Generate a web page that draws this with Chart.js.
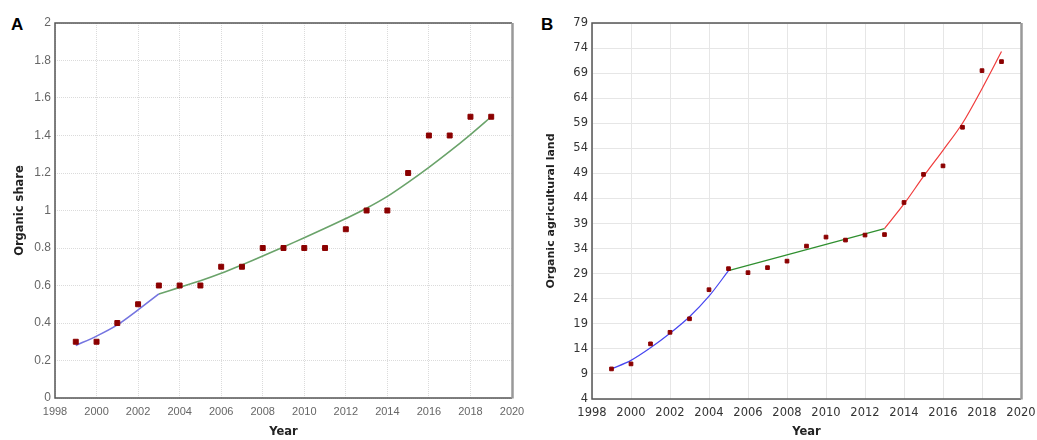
<!DOCTYPE html>
<html>
<head>
<meta charset="utf-8">
<script src="https://cdn.jsdelivr.net/npm/chart.js@4"></script>
<style>
  body { margin: 0; background: #fff; width: 1037px; height: 440px; position: relative; overflow: hidden; }
  .panel { position: absolute; top: 0; height: 440px; }
  .tag { position: absolute; font: bold 17px "Liberation Sans", Arial, sans-serif; color: #000; }
</style>
</head>
<body>
<div class="tag" style="left:11px;top:15px">A</div>
<div class="tag" style="left:541px;top:15px">B</div>
<div class="panel" style="left:0;width:525px"><canvas id="shareChart" width="525" height="440"></canvas></div>
<div class="panel" style="left:525px;width:512px"><canvas id="landChart" width="512" height="440"></canvas></div>
<script>
// observed values
const years = [1999, 2000, 2001, 2002, 2003, 2004, 2005, 2006, 2007, 2008, 2009, 2010, 2011, 2012, 2013, 2014, 2015, 2016, 2017, 2018, 2019];
const shareValues = [0.3, 0.3, 0.4, 0.5, 0.6, 0.6, 0.6, 0.7, 0.7, 0.8, 0.8, 0.8, 0.8, 0.9, 1.0, 1.0, 1.2, 1.4, 1.4, 1.5, 1.5];
const landValues = [10, 11, 15, 17.3, 20, 25.8, 30, 29.2, 30.2, 31.5, 34.5, 36.3, 35.7, 36.7, 36.8, 43.2, 48.8, 50.5, 58.2, 69.5, 71.3];

// fitted segments (A)
const shareFit1Years = [1999, 2000, 2001, 2002, 2003];
const shareFit1 = [0.28, 0.33, 0.39, 0.47, 0.555];
const shareFit2Years = [2003, 2004, 2005, 2006, 2007, 2008, 2009, 2010, 2011, 2012, 2013, 2014, 2015, 2016, 2017, 2018, 2019];
const shareFit2 = [0.555, 0.59, 0.625, 0.665, 0.71, 0.757, 0.805, 0.855, 0.905, 0.957, 1.012, 1.075, 1.15, 1.23, 1.315, 1.405, 1.5];

// fitted segments (B)
const landFit1Years = [1999, 2000, 2001, 2002, 2003, 2004, 2005];
const landFit1 = [10, 11.7, 14.2, 17.1, 20.4, 24.5, 29.6];
const landFit2Years = [2005, 2013];
const landFit2 = [29.6, 38.0];
const landFit3Years = [2013, 2014, 2015, 2016, 2017, 2018, 2019];
const landFit3 = [38.0, 42.9, 48.4, 53.6, 59.0, 65.9, 73.3];

// axis ticks
const yearTicks = [1998, 2000, 2002, 2004, 2006, 2008, 2010, 2012, 2014, 2016, 2018, 2020];
const shareTicks = [0, 0.2, 0.4, 0.6, 0.8, 1, 1.2, 1.4, 1.6, 1.8, 2];
const landTicks = [4, 9, 14, 19, 24, 29, 34, 39, 44, 49, 54, 59, 64, 69, 74, 79];

const pts = (xs, ys) => xs.map((x, i) => ({ x: x, y: ys[i] }));

// border round the plot area
const frame = {
  id: 'frame',
  afterDraw(chart, args, opts) {
    const { ctx, chartArea: a } = chart;
    ctx.save();
    ctx.strokeStyle = opts.dark;
    ctx.lineWidth = 1.5;
    ctx.beginPath();
    ctx.moveTo(a.right, a.top);
    ctx.lineTo(a.left, a.top);
    ctx.lineTo(a.left, a.bottom);
    ctx.lineTo(a.right, a.bottom);
    ctx.stroke();
    ctx.strokeStyle = opts.side;
    ctx.lineWidth = 2.5;
    ctx.beginPath();
    ctx.moveTo(a.right + 0.5, a.top);
    ctx.lineTo(a.right + 0.5, a.bottom + 0.5);
    ctx.stroke();
    ctx.restore();
  }
};

function makeChart(id, cfg) {
  const fit = (d) => ({
    type: 'scatter',
    data: pts(d.xs, d.ys),
    showLine: true,
    borderColor: d.color,
    borderWidth: d.width,
    pointRadius: 0,
    tension: 0.3,
    order: 2
  });
  return new Chart(document.getElementById(id), {
    type: 'scatter',
    data: {
      datasets: [
        {
          data: pts(years, cfg.values),
          pointStyle: 'rect',
          pointRadius: cfg.marker,
          backgroundColor: '#8b0000',
          borderColor: '#8b0000',
          borderWidth: 1,
          order: 1
        }
      ].concat(cfg.fits.map(fit))
    },
    options: {
      responsive: false,
      animation: false,
      layout: { padding: { top: 23, right: cfg.right, left: 0, bottom: 0 } },
      plugins: { legend: { display: false }, tooltip: { enabled: false }, frame: cfg.frame },
      scales: {
        x: {
          type: 'linear',
          min: 1998, max: 2020,
          afterBuildTicks: s => { s.ticks = yearTicks.map(v => ({ value: v })); },
          afterFit: s => { s.height = cfg.xh; s.paddingLeft = 0; s.paddingRight = 0; },
          grid: { color: cfg.grid, drawTicks: false },
          border: { display: false, dash: cfg.dash },
          ticks: { color: cfg.tickColor, font: cfg.xFont, padding: cfg.xPad, maxRotation: 0, callback: v => String(v) },
          title: { display: true, text: 'Year', color: '#222', font: { family: 'DejaVu Sans', weight: 'bold', size: 11.5 }, padding: { top: 0, bottom: 1 } }
        },
        y: {
          min: cfg.yMin, max: cfg.yMax,
          afterBuildTicks: s => { s.ticks = cfg.yTicks.map(v => ({ value: v })); },
          afterFit: s => { s.width = cfg.yw; s.paddingTop = 0; s.paddingBottom = 0; },
          grid: { color: cfg.grid, drawTicks: false },
          border: { display: false, dash: cfg.dash },
          ticks: { color: cfg.tickColor, font: cfg.yFont, padding: cfg.yPad, callback: v => String(+v.toFixed(1)) },
          title: { display: true, text: cfg.yTitle, color: '#222', font: { family: 'DejaVu Sans', weight: 'bold', size: cfg.titleSize }, padding: { top: cfg.titlePad, bottom: 0 } }
        }
      }
    },
    plugins: [frame]
  });
}

// Panel A
makeChart('shareChart', {
  values: shareValues,
  marker: 3.5,
  fits: [
    { xs: shareFit1Years, ys: shareFit1, color: '#7474e0', width: 1.6 },
    { xs: shareFit2Years, ys: shareFit2, color: '#6aa36a', width: 1.6 }
  ],
  right: 13, xh: 42, yw: 55,
  yMin: 0, yMax: 2, yTicks: shareTicks,
  yTitle: 'Organic share', titlePad: 13, titleSize: 11.5,
  grid: 'rgba(0,0,0,0.14)', dash: [1, 1],
  tickColor: '#666',
  xFont: { family: '"Liberation Sans Narrow", "Liberation Sans", Arial', size: 11 },
  yFont: { family: '"Liberation Sans Narrow", "Liberation Sans", Arial', size: 12 },
  xPad: 7, yPad: 4,
  frame: { dark: '#555', side: '#999' }
});

// Panel B
makeChart('landChart', {
  values: landValues,
  marker: 2.6,
  fits: [
    { xs: landFit1Years, ys: landFit1, color: '#4646f0', width: 1.2 },
    { xs: landFit2Years, ys: landFit2, color: '#2f8f2f', width: 1.2 },
    { xs: landFit3Years, ys: landFit3, color: '#f03c3c', width: 1.2 }
  ],
  right: 16, xh: 41, yw: 67,
  yMin: 4, yMax: 79, yTicks: landTicks,
  yTitle: 'Organic agricultural land', titlePad: 20, titleSize: 11,
  grid: '#e6e6e6', dash: [],
  tickColor: '#333',
  xFont: { family: '"DejaVu Sans", Verdana', size: 11.5 },
  yFont: { family: '"DejaVu Sans", Verdana', size: 11.5 },
  xPad: 7, yPad: 4,
  frame: { dark: '#555', side: '#999' }
});
</script>
</body>
</html>
